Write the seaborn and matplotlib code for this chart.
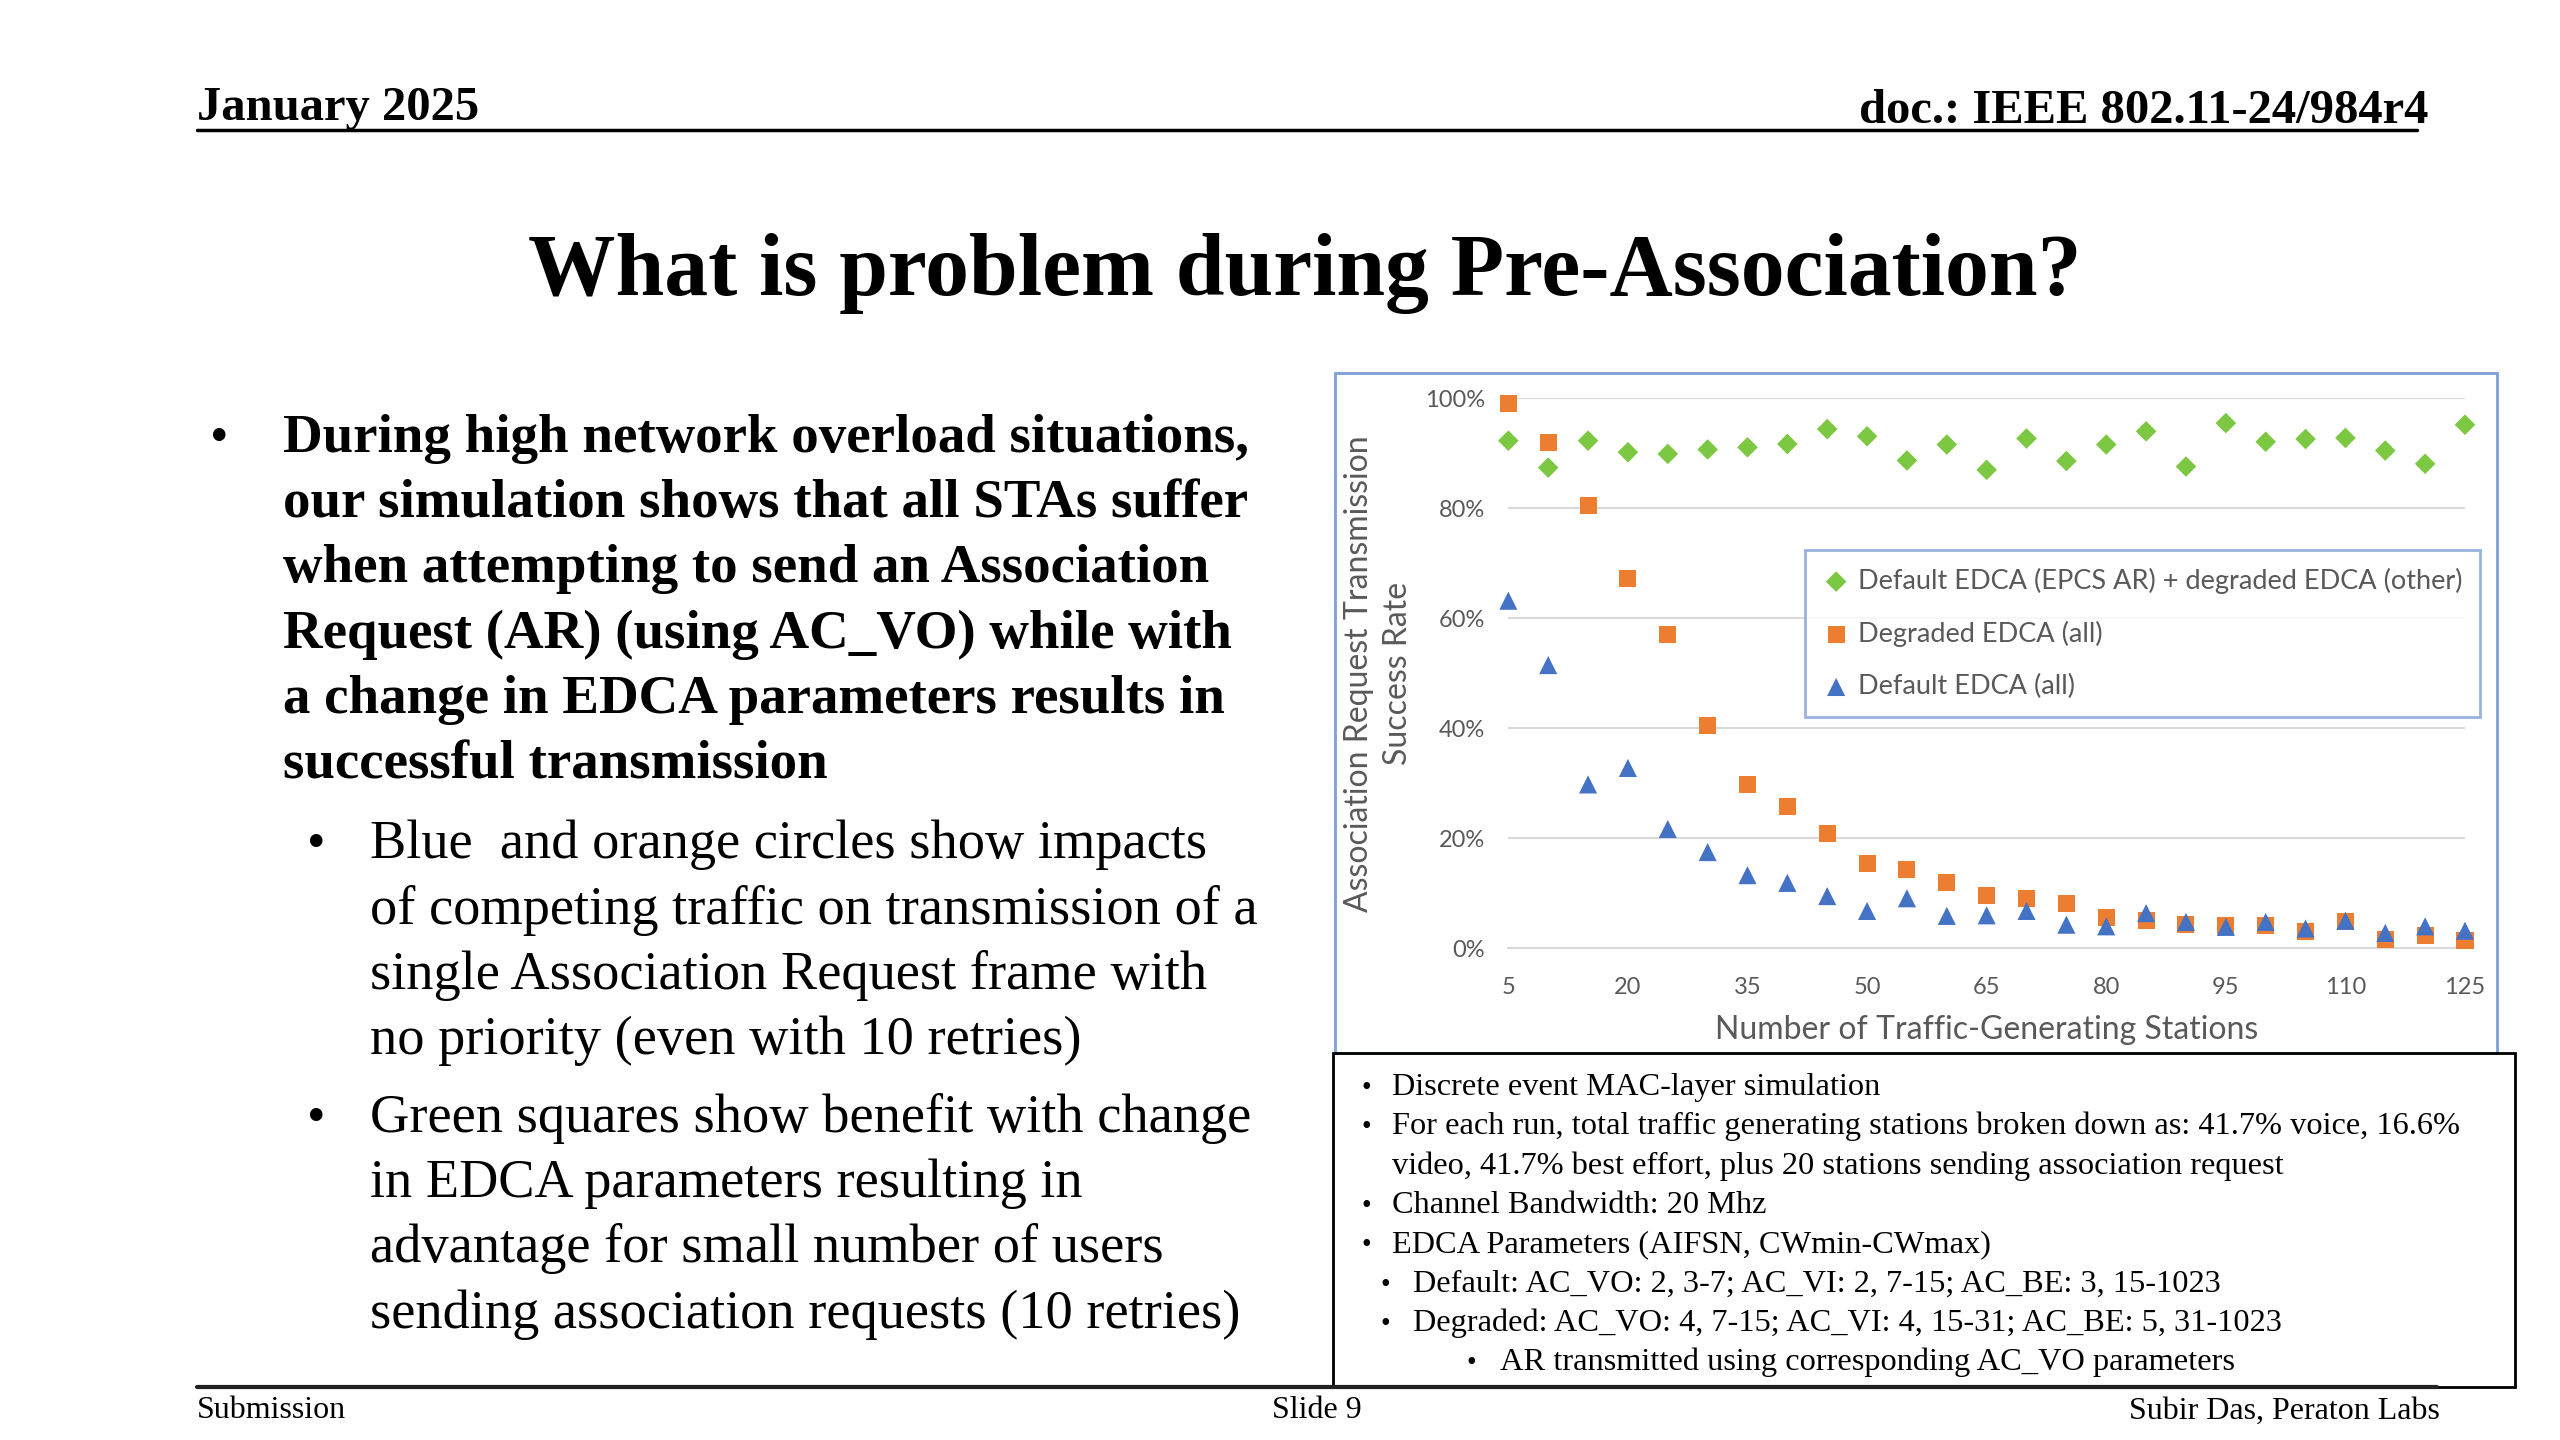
import numpy as np
import pandas as pd
import matplotlib
matplotlib.use("Agg")
import matplotlib.pyplot as plt
import seaborn as sns
from matplotlib.patches import Rectangle
from matplotlib.lines import Line2D

# data (success rate, %)
stations = [5, 10, 15, 20, 25, 30, 35, 40, 45, 50, 55, 60, 65,
            70, 75, 80, 85, 90, 95, 100, 105, 110, 115, 120, 125]
epcs_rate = [92.3, 87.4, 92.3, 90.2, 89.9, 90.7, 91.1, 91.7, 94.4, 93.1, 88.7, 91.6, 87.0,
             92.7, 88.6, 91.6, 94.0, 87.6, 95.5, 92.1, 92.6, 92.8, 90.5, 88.1, 95.2]
degraded_rate = [99.0, 92.0, 80.6, 67.2, 57.0, 40.5, 29.8, 25.8, 20.8, 15.4, 14.3, 11.9, 9.6,
                 9.0, 8.2, 5.6, 5.0, 4.4, 4.2, 4.2, 3.1, 4.8, 1.6, 2.4, 1.4]
default_rate = [63.2, 51.5, 29.8, 32.8, 21.7, 17.5, 13.3, 11.9, 9.5, 6.8, 9.1, 5.9, 6.0,
                6.8, 4.3, 4.0, 6.4, 4.8, 3.9, 4.8, 3.6, 5.0, 2.8, 4.0, 3.2]
series_names = ["Default EDCA (EPCS AR) + degraded EDCA (other)",
                "Degraded EDCA (all)",
                "Default EDCA (all)"]
xtick_labels = [5, 20, 35, 50, 65, 80, 95, 110, 125]
ytick_values = [0, 20, 40, 60, 80, 100]

sns.set_theme(style="white")
plt.rcParams['font.family'] = ['Liberation Serif', 'DejaVu Serif']
plt.rcParams['text.color'] = 'black'

fig = plt.figure(figsize=(25.6, 14.4), dpi=100)
fig.patch.set_facecolor("white")

# positions below were measured on a 1536 x 864 view of the slide
W, H = 1536.0, 864.0


def fx(px):
    return px / W


def fy(py):
    return 1 - py / H


# ---- slide header / footer
fig.text(fx(118), fy(72), "January 2025", fontsize=35, fontweight="bold", va="baseline")
fig.text(fx(1457), fy(74), "doc.: IEEE 802.11-24/984r4", fontsize=35, fontweight="bold",
         va="baseline", ha="right")
fig.add_artist(Line2D([fx(118), fx(1450)], [fy(78), fy(78)], color="black", lw=2.5))
fig.text(fx(783), fy(177), "What is problem during Pre-Association?", fontsize=63,
         fontweight="bold", ha="center", va="baseline")

fig.add_artist(Line2D([fx(118), fx(1462)], [fy(832), fy(832)], color="#222222", lw=3))
fig.text(fx(118), fy(851), "Submission", fontsize=23, va="baseline")
fig.text(fx(790), fy(851), "Slide 9", fontsize=23, va="baseline", ha="center")
fig.text(fx(1464), fy(851), "Subir Das, Peraton Labs", fontsize=23, va="baseline", ha="right")

# ---- left bullet text
main_lines = ["During high network overload situations,",
              "our simulation shows that all STAs suffer",
              "when attempting to send an Association",
              "Request (AR) (using AC_VO) while with",
              "a change in EDCA parameters results in",
              "successful transmission"]
sub1 = ["Blue  and orange circles show impacts",
        "of competing traffic on transmission of a",
        "single Association Request frame with",
        "no priority (even with 10 retries)"]
sub2 = ["Green squares show benefit with change",
        "in EDCA parameters resulting in",
        "advantage for small number of users",
        "sending association requests (10 retries)"]

step = 39.2
fig.text(fx(126), fy(271), "•", fontsize=38, va="baseline")
for i, s in enumerate(main_lines):
    fig.text(fx(170), fy(271 + i * step), s, fontsize=39.5, fontweight="bold", va="baseline")
for start, block in [(515, sub1), (679, sub2)]:
    fig.text(fx(184), fy(start), "•", fontsize=38, va="baseline")
    for i, s in enumerate(block):
        fig.text(fx(222), fy(start + i * step), s, fontsize=39.2, va="baseline")

# ---- chart frame
fig.add_artist(Rectangle((fx(801), fy(632)), fx(1498) - fx(801), fy(224) - fy(632),
                         transform=fig.transFigure, fill=False, edgecolor="#7F9FD8",
                         lw=2, zorder=0))

ax = fig.add_axes([fx(905), fy(569), fx(1479) - fx(905), fy(239) - fy(569)])
df = pd.DataFrame({"stations": stations, "epcs": np.array(epcs_rate) / 100,
                   "degraded": np.array(degraded_rate) / 100,
                   "default": np.array(default_rate) / 100})

sns.scatterplot(data=df, x="stations", y="epcs", ax=ax, marker="D", s=110,
                color="#7CC843", edgecolor="none", label=series_names[0], clip_on=False, zorder=3)
sns.scatterplot(data=df, x="stations", y="degraded", ax=ax, marker="s", s=150,
                color="#ED7D31", edgecolor="none", label=series_names[1], clip_on=False, zorder=4)
sns.scatterplot(data=df, x="stations", y="default", ax=ax, marker="^", s=170,
                color="#4472C4", edgecolor="none", label=series_names[2], clip_on=False, zorder=5)

chart_font = ['Lato', 'DejaVu Sans']
grey = "#595959"
ax.set_xlim(5, 125)
ax.set_ylim(0, 1)
ax.set_yticks([v / 100 for v in ytick_values])
ax.set_yticklabels([f"{v}%" for v in ytick_values], family=chart_font, fontsize=17, color=grey)
ax.set_xticks(xtick_labels)
ax.set_xticklabels([str(v) for v in xtick_labels], family=chart_font, fontsize=17, color=grey)
for y in ytick_values[1:]:
    ax.axhline(y / 100, color="#D9D9D9", lw=1.5, zorder=1)
for side in ["top", "right", "left"]:
    ax.spines[side].set_visible(False)
ax.spines["bottom"].set_color("#D9D9D9")
ax.spines["bottom"].set_linewidth(1.5)
ax.tick_params(axis="x", direction="out", length=7, width=1.5, color="#D9D9D9", pad=14)
ax.tick_params(axis="y", length=0, pad=17)
ax.set_facecolor("white")

ax.set_xlabel("Number of Traffic-Generating Stations", family=chart_font, fontsize=23,
              color=grey, labelpad=12)
ax.set_ylabel("Association Request Transmission\nSuccess Rate", family=chart_font,
              fontsize=23, color=grey, labelpad=8, linespacing=1.4)

leg = ax.legend(loc="upper left", bbox_to_anchor=(fx(1083), fy(330)),
                bbox_transform=fig.transFigure, frameon=True, fancybox=False,
                prop={"family": chart_font, "size": 19.5}, labelcolor=grey,
                borderpad=0.65, labelspacing=1.0, handletextpad=0.3, handlelength=1.0,
                borderaxespad=0)
leg.get_frame().set_edgecolor("#7F9FD8")
leg.get_frame().set_linewidth(2)

# ---- notes box
fig.add_artist(Rectangle((fx(800), fy(832)), fx(1509) - fx(800), fy(632) - fy(832),
                         transform=fig.transFigure, fill=False, edgecolor="black", lw=2))
notes = [(817, 835, "Discrete event MAC-layer simulation"),
         (817, 835, "For each run, total traffic generating stations broken down as: 41.7% voice, 16.6%"),
         (None, 835, "video, 41.7% best effort, plus 20 stations sending association request"),
         (817, 835, "Channel Bandwidth: 20 Mhz"),
         (817, 835, "EDCA Parameters (AIFSN, CWmin-CWmax)"),
         (828, 848, "Default: AC_VO: 2, 3-7; AC_VI: 2, 7-15; AC_BE: 3, 15-1023"),
         (828, 848, "Degraded: AC_VO: 4, 7-15; AC_VI: 4, 15-31; AC_BE: 5, 31-1023"),
         (880, 900, "AR transmitted using corresponding AC_VO parameters")]
for i, (bx, tx, s) in enumerate(notes):
    yb = fy(657 + i * 23.6)
    if bx is not None:
        fig.text(fx(bx), yb, "•", fontsize=20, va="baseline")
    fig.text(fx(tx), yb, s, fontsize=23.3, va="baseline")

fig.savefig("out.png", dpi=100, facecolor="white")
